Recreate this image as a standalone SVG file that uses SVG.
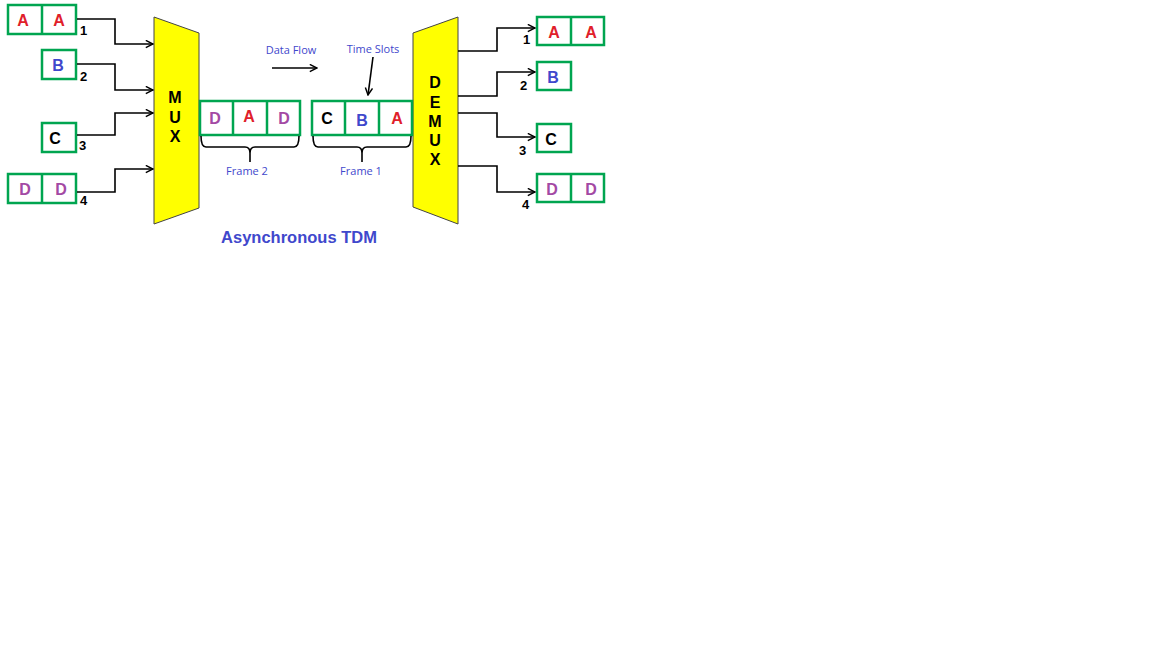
<svg xmlns="http://www.w3.org/2000/svg" width="1152" height="648" viewBox="0 0 1152 648">
<defs>
<marker id="ah" viewBox="0 0 10 10" refX="9" refY="5" markerWidth="9" markerHeight="9" markerUnits="userSpaceOnUse" orient="auto">
<path d="M1,1 L9,5 L1,9" fill="none" stroke="#000" stroke-width="1.6"/>
</marker>
<style>
.box{fill:#fff;stroke:#00a550;stroke-width:2.5}
.t{font-family:"Liberation Sans",Arial,sans-serif;font-weight:bold;font-size:16px;text-anchor:middle}
.r{fill:#e0202a}.b{fill:#3f48cc}.p{fill:#a349a4}.k{fill:#000}
.num{font-family:"Liberation Sans",Arial,sans-serif;font-weight:bold;font-size:13px;fill:#000}
.lbl{font-family:"Open Sans","Liberation Sans",sans-serif;font-size:11px;fill:#3f48cc;text-anchor:middle}
.mux{fill:#ffff00;stroke:#444;stroke-width:1}
.ml{font-family:"Liberation Sans",Arial,sans-serif;font-weight:bold;font-size:16px;fill:#000;text-anchor:middle}
.c{fill:none;stroke:#000;stroke-width:1.6}
</style>
</defs>
<rect width="1152" height="648" fill="#fff"/>

<g id="in-aa"><rect class="box" x="8" y="5" width="68" height="29"/><line class="box" x1="42" y1="5" x2="42" y2="34"/><text class="t r" x="23" y="26">A</text><text class="t r" x="59" y="26">A</text></g>
<g id="in-b"><rect class="box" x="42" y="50" width="34" height="29"/><text class="t b" x="58" y="71">B</text></g>
<g id="in-c"><rect class="box" x="42" y="123" width="34" height="29"/><text class="t k" x="55" y="144">C</text></g>
<g id="in-dd"><rect class="box" x="8" y="174" width="68" height="29"/><line class="box" x1="42" y1="174" x2="42" y2="203"/><text class="t p" x="25" y="195">D</text><text class="t p" x="61" y="195">D</text></g>

<g id="mux"><polygon class="mux" points="154,17 199,33 199,208 154,224"/><text class="ml" x="175" y="103">M</text><text class="ml" x="175" y="123">U</text><text class="ml" x="175" y="142">X</text></g>

<g id="demux"><polygon class="mux" points="413,33 458,17 458,224 413,207"/><text class="ml" x="435" y="88">D</text><text class="ml" x="435" y="108">E</text><text class="ml" x="435" y="127">M</text><text class="ml" x="435" y="146">U</text><text class="ml" x="435" y="165">X</text></g>

<g id="frame2"><rect class="box" x="200" y="101" width="100" height="34"/><line class="box" x1="233" y1="101" x2="233" y2="135"/><line class="box" x1="267" y1="101" x2="267" y2="135"/><text class="t p" x="215" y="124">D</text><text class="t r" x="249" y="122">A</text><text class="t p" x="284" y="124">D</text>
<path class="c" d="M201,136 Q201,147 206,147 L245,147 Q250,147 250,153 L250,162 M250,153 Q250,147 255,147 L294,147 Q299,147 299,136"/>
<text class="lbl" x="247" y="175">Frame 2</text></g>

<g id="frame1"><rect class="box" x="312" y="101" width="100" height="34"/><line class="box" x1="345" y1="101" x2="345" y2="135"/><line class="box" x1="379" y1="101" x2="379" y2="135"/><text class="t k" x="327" y="124">C</text><text class="t b" x="362" y="126">B</text><text class="t r" x="397" y="124">A</text>
<path class="c" d="M313,136 Q313,147 318,147 L357,147 Q362,147 362,153 L362,162 M362,153 Q362,147 367,147 L406,147 Q411,147 411,136"/>
<text class="lbl" x="361" y="175">Frame 1</text></g>

<g id="out-aa"><rect class="box" x="537" y="17" width="67" height="28"/><line class="box" x1="571" y1="17" x2="571" y2="45"/><text class="t r" x="554" y="38">A</text><text class="t r" x="591" y="38">A</text></g>
<g id="out-b"><rect class="box" x="537" y="62" width="34" height="28"/><text class="t b" x="553" y="83">B</text></g>
<g id="out-c"><rect class="box" x="537" y="124" width="34" height="28"/><text class="t k" x="551" y="145">C</text></g>
<g id="out-dd"><rect class="box" x="537" y="174" width="67" height="28"/><line class="box" x1="571" y1="174" x2="571" y2="202"/><text class="t p" x="552" y="195">D</text><text class="t p" x="591" y="195">D</text></g>

<g id="connectors">
<polyline class="c" marker-end="url(#ah)" points="77,19 115,19 115,44 153,44"/>
<polyline class="c" marker-end="url(#ah)" points="77,64 115,64 115,90 153,90"/>
<polyline class="c" marker-end="url(#ah)" points="77,135 115,135 115,113 153,113"/>
<polyline class="c" marker-end="url(#ah)" points="77,192 115,192 115,169 153,169"/>
<polyline class="c" marker-end="url(#ah)" points="458,51 497,51 497,28 535,28"/>
<polyline class="c" marker-end="url(#ah)" points="458,96 497,96 497,72 535,72"/>
<polyline class="c" marker-end="url(#ah)" points="458,113 497,113 497,137 535,137"/>
<polyline class="c" marker-end="url(#ah)" points="458,166 497,166 497,192 535,192"/>
<line class="c" marker-end="url(#ah)" x1="272" y1="68" x2="317" y2="68"/>
<line class="c" marker-end="url(#ah)" x1="373" y1="57" x2="368" y2="95"/>
</g>

<g id="labels">
<text class="num" x="80" y="35">1</text><text class="num" x="80" y="81">2</text><text class="num" x="79" y="150">3</text><text class="num" x="80" y="205">4</text>
<text class="num" x="523" y="44">1</text><text class="num" x="520" y="90">2</text><text class="num" x="519" y="155">3</text><text class="num" x="522" y="209">4</text>
<text class="lbl" x="291" y="54">Data Flow</text>
<text class="lbl" x="373" y="53">Time Slots</text>
<text x="299" y="243" style="font-family:'Liberation Sans',Arial,sans-serif;font-weight:bold;font-size:16.5px;fill:#3f48cc;text-anchor:middle">Asynchronous TDM</text>
</g>
</svg>
